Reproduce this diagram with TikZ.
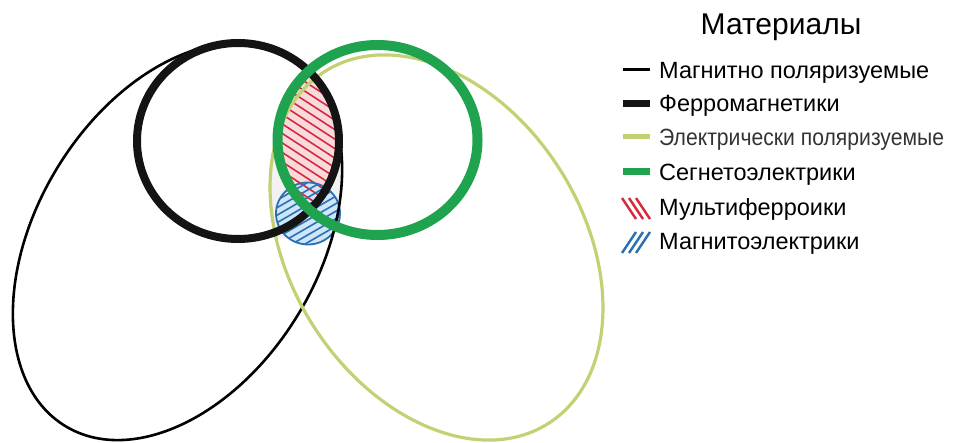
\documentclass[tikz,border=0pt]{standalone}
\usepackage{fontspec}
\setmainfont{Liberation Sans}
\newfontfamily\narrowfont[FakeStretch=0.9]{Liberation Sans}
\definecolor{fgreen}{HTML}{1FA34E}
\definecolor{eyellow}{HTML}{C3D174}
\definecolor{mred}{HTML}{D42A3C}
\definecolor{mblue}{HTML}{2B6FB5}
\definecolor{pinkfill}{HTML}{F8DADC}
\definecolor{bluefill}{HTML}{CDE6F8}
\tikzset{
  magpol/.style={draw=black, line width=2.6pt},
  ferro/.style={draw=black!92, line width=8pt},
  elpol/.style={draw=eyellow, line width=3.2pt},
  ferroel/.style={draw=fgreen, line width=10pt},
  meout/.style={draw=mblue, line width=1.8pt},
  hatchred/.style={draw=mred, line width=1.6pt},
  hatchblue/.style={draw=mblue, line width=1.6pt},
  legtext/.style={anchor=base west, inner sep=0pt, font=\fontsize{23.5}{28}\selectfont},
  legmark/.style={line cap=butt},
}
\begin{document}
\begin{tikzpicture}[x=1pt,y=-1pt]
\useasboundingbox (0,0) rectangle (953,443);

% light grey overlap of the two polarisable sets (upper part)
\begin{scope}
  \clip[rotate around={58.7:(177.5,241.5)}] (177.5,241.5) ellipse [x radius=216pt, y radius=141pt];
  \clip[rotate around={122.5:(436.5,247.5)}] (436.5,247.5) ellipse [x radius=208.5pt, y radius=146pt];
  \clip (0,0) rectangle (953,238);
  \fill[black!5] (0,0) rectangle (953,443);
\end{scope}

% multiferroic lens fill
\begin{scope}
  \clip (238,141) ellipse [x radius=101pt, y radius=98pt];
  \clip (377.5,140) ellipse [x radius=100pt, y radius=95pt];
  \fill[pinkfill] (0,0) rectangle (953,443);
\end{scope}
% magnetoelectric fill
\fill[bluefill] (308,213.5) ellipse [x radius=32pt, y radius=31pt];

% red hatch
\begin{scope}
  \clip (238,141) ellipse [x radius=101pt, y radius=98pt];
  \clip (377.5,140) ellipse [x radius=100pt, y radius=95pt];
  \foreach \c in {-30,-20.5,...,250} \draw[hatchred] (250,\c) -- (360,\c+71.5);
\end{scope}
% blue hatch
\begin{scope}
  \clip (308,213.5) ellipse [x radius=32pt, y radius=31pt];
  \foreach \c in {180,187.5,...,320} \draw[hatchblue] (260,\c) -- (360,\c-57.7);
\end{scope}
\draw[meout] (308,213.5) ellipse [x radius=32pt, y radius=31pt];

% outlines
\draw[magpol, rotate around={58.7:(177.5,241.5)}] (177.5,241.5) ellipse [x radius=216pt, y radius=141pt];
\draw[elpol, rotate around={122.5:(436.5,247.5)}] (436.5,247.5) ellipse [x radius=208.5pt, y radius=146pt];
\draw[ferro] (238,141) ellipse [x radius=101pt, y radius=98pt];
\draw[ferroel] (377.5,140) ellipse [x radius=100pt, y radius=95pt];

% legend
\node (title) at (781,35) [anchor=base, inner sep=0pt, font=\fontsize{30}{34}\selectfont] {Материалы};
\node (l1) at (659,78.5) [legtext] {Магнитно поляризуемые};
\node (l2) at (659,112) [legtext] {Ферромагнетики};
\node (l3) at (659,145.5) [legtext, font=\narrowfont\fontsize{23.5}{28}\selectfont, text=black!80] {Электрически поляризуемые};
\node (l4) at (659,180.5) [legtext] {Сегнетоэлектрики};
\node (l5) at (659,216) [legtext] {Мультиферроики};
\node (l6) at (659,250) [legtext] {Магнитоэлектрики};

\draw[legmark, draw=black, line width=3pt] (623,70) -- (650,70);
\draw[legmark, draw=black!92, line width=7pt] (623,103.5) -- (650,103.5);
\draw[legmark, draw=eyellow, line width=5pt] (623,137) -- (650,137);
\draw[legmark, draw=fgreen, line width=7pt] (623,172) -- (650,172);
\foreach \k in {0,1,2} \draw[hatchred, line width=2.4pt] (622+7*\k,198) -- (636+7*\k,219);
\foreach \k in {0,1,2} \draw[hatchblue, line width=2.4pt] (622+7*\k,253) -- (636+7*\k,232);
\end{tikzpicture}
\end{document}
